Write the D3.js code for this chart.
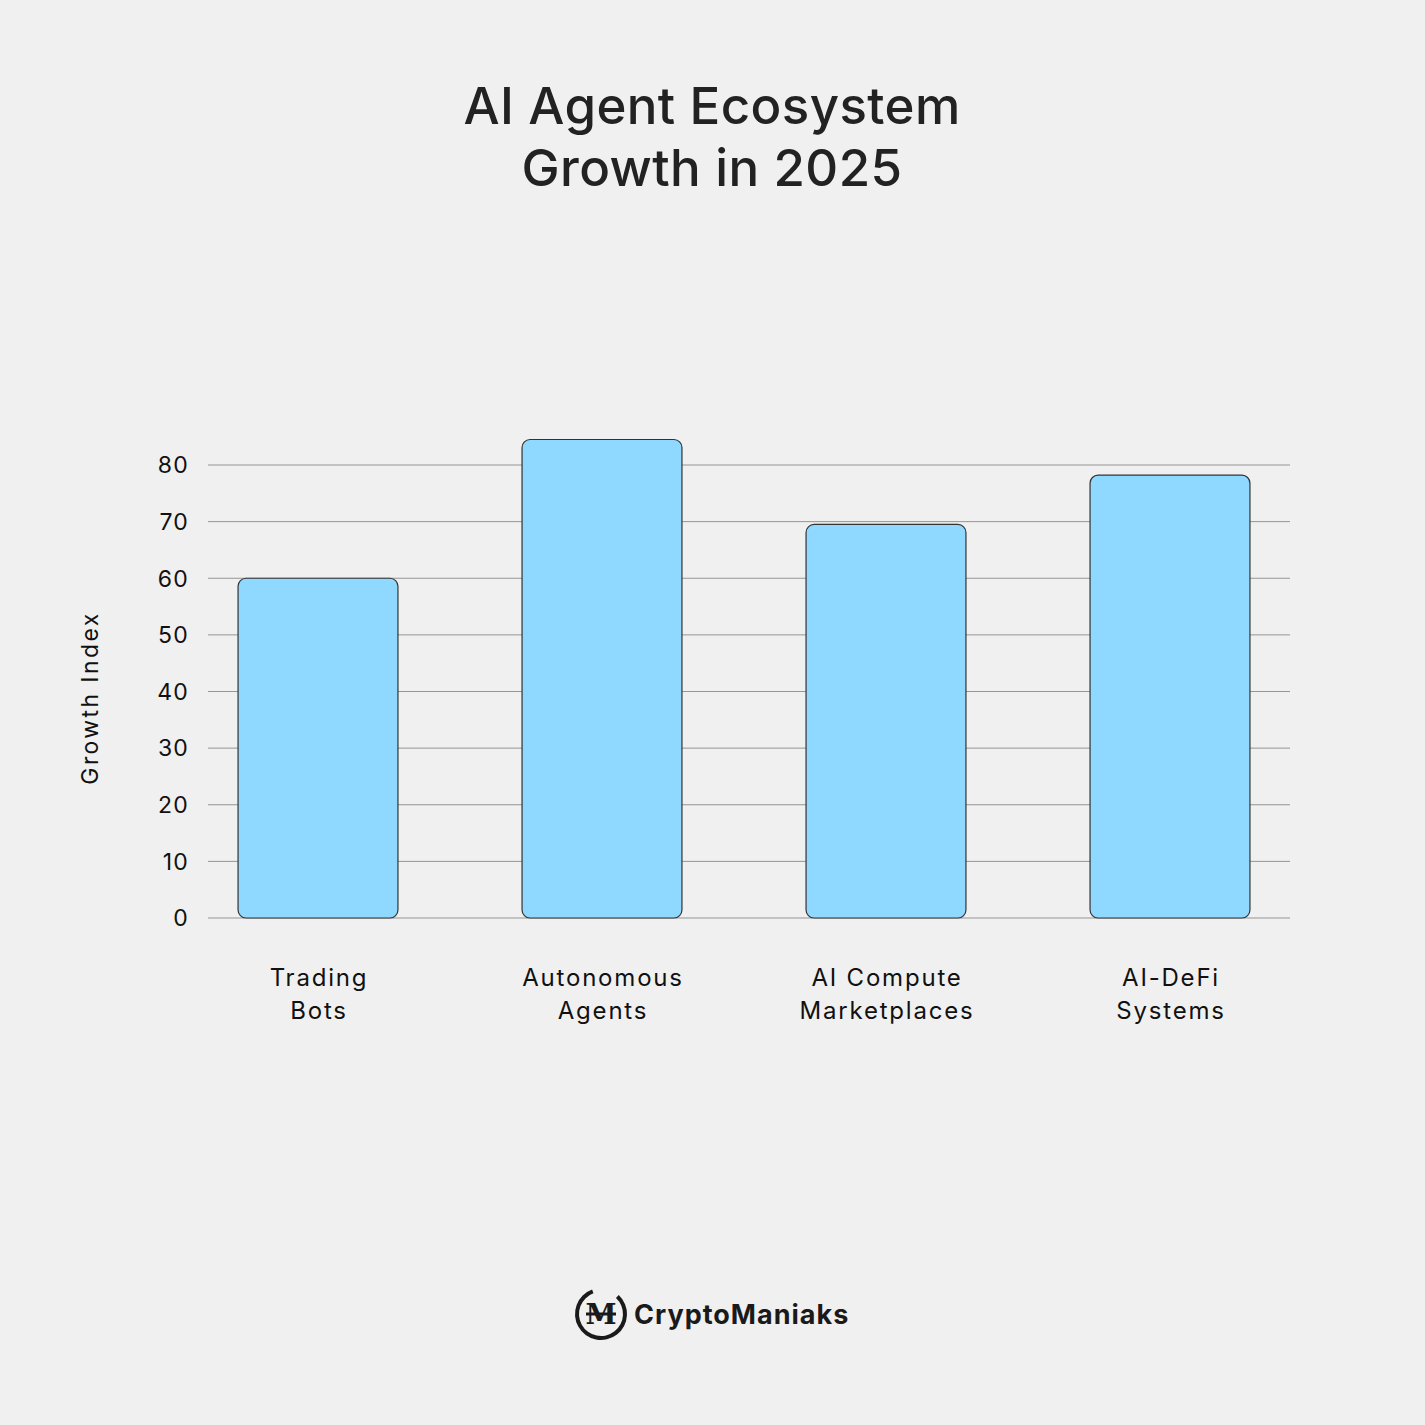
<!DOCTYPE html>
<html><head><meta charset="utf-8">
<script src="https://cdn.jsdelivr.net/npm/d3@7"></script>
<style>body{margin:0;background:#f0f0f0;}svg{display:block;font-family:Inter,"Noto Sans",sans-serif;}</style>
</head><body>
<svg id="c" width="1425" height="1425"></svg>
<script>
const categories = [["Trading","Bots"],["Autonomous","Agents"],["AI Compute","Marketplaces"],["AI-DeFi","Systems"]];
const values = [60, 84.5, 69.5, 78.2];
const yTicks = [0,10,20,30,40,50,60,70,80];
const titleLines = ["AI Agent Ecosystem","Growth in 2025"];
const yLabel = "Growth Index";
const brand = "CryptoManiaks";

const svg = d3.select("#c");
svg.append("rect").attr("width",1425).attr("height",1425).attr("fill","#f0f0f0");

const x = d3.scaleBand().domain(d3.range(categories.length)).range([176,1312]).paddingInner(0.437).paddingOuter(0.2185);
const y = d3.scaleLinear().domain([0,80]).range([918,465]);

// grid
svg.append("g").selectAll("line").data(yTicks).join("line")
  .attr("x1",208).attr("x2",1290).attr("y1",d=>y(d)).attr("y2",d=>y(d))
  .attr("stroke","#959595").attr("stroke-width",1);

// y tick labels
svg.append("g").selectAll("text").data(yTicks).join("text")
  .attr("x",189).attr("y",d=>y(d)).attr("dy","0.36em").attr("text-anchor","end")
  .attr("font-size",23).attr("letter-spacing",1.2).attr("fill","#111").text(d=>d);

// bars
svg.append("g").selectAll("rect").data(values).join("rect")
  .attr("x",(d,i)=>x(i)).attr("width",x.bandwidth())
  .attr("y",d=>y(d)).attr("height",d=>y(0)-y(d))
  .attr("rx",8).attr("ry",8)
  .attr("fill","#8fd8ff").attr("stroke","#333").attr("stroke-width",1.2);

// category labels
const cl = svg.append("g").selectAll("text").data(categories).join("text")
  .attr("x",(d,i)=>x(i)+x.bandwidth()/2+1).attr("y",986).attr("text-anchor","middle")
  .attr("font-size",24).attr("letter-spacing",1.8).attr("fill","#111");
cl.selectAll("tspan").data(d=>d).join("tspan")
  .attr("x",function(){return d3.select(this.parentNode).attr("x");})
  .attr("dy",(d,i)=>i===0?0:33).text(d=>d);

// y axis label
svg.append("text").attr("transform","translate(98,698) rotate(-90)")
  .attr("text-anchor","middle").attr("font-size",23).attr("letter-spacing",2.4).attr("fill","#111").text(yLabel);

// title
svg.append("g").selectAll("text").data(titleLines).join("text")
  .attr("x",712).attr("y",(d,i)=>124+i*62).attr("text-anchor","middle")
  .attr("font-size",51).attr("letter-spacing",0.4).attr("font-weight",500).attr("fill","#222").text(d=>d);

// brand
const b = svg.append("g");
b.append("path").attr("d", d3.arc()({innerRadius:22,outerRadius:26,startAngle:0.75,endAngle:2*Math.PI-0.35}))
  .attr("transform","translate(601,1314)").attr("fill","#1a1a1a");
b.append("text").attr("x",601).attr("y",1324).attr("text-anchor","middle").attr("font-size",28)
  .attr("font-weight",800).attr("fill","#1a1a1a").attr("font-family","'DejaVu Serif',serif").text("M");
b.append("line").attr("x1",586).attr("x2",616).attr("y1",1314).attr("y2",1314).attr("stroke","#1a1a1a").attr("stroke-width",3);
b.append("text").attr("x",634).attr("y",1324).attr("font-size",27).attr("letter-spacing",1).attr("font-weight",700).attr("fill","#1a1a1a").text(brand);
</script>
</body></html>
